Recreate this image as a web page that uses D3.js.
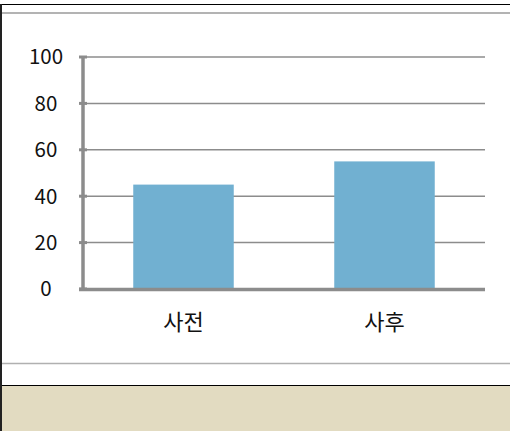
<!DOCTYPE html>
<html><head><meta charset="utf-8">
<script src="https://cdn.jsdelivr.net/npm/d3@7"></script>
<style>html,body{margin:0;padding:0;background:#fff;}svg{display:block;}</style>
</head><body>
<svg id="c" width="510" height="431"></svg>
<script>
const categories = ["사전", "사후"];
const values = [45, 55];
const yTicks = [0, 20, 40, 60, 80, 100];

const svg = d3.select("#c");
const W = 510, H = 431;
const font = "'Noto Sans CJK KR', 'Noto Sans', sans-serif";

// frame decorations
svg.append("rect").attr("x", 0).attr("y", 386).attr("width", W).attr("height", H - 386).attr("fill", "#e2dbc1");
svg.append("line").attr("x1", 0).attr("x2", W).attr("y1", 4.5).attr("y2", 4.5).attr("stroke", "#000").attr("stroke-width", 1);
svg.append("line").attr("x1", 0).attr("x2", W).attr("y1", 13).attr("y2", 13).attr("stroke", "#9a9a9a").attr("stroke-width", 1.5);
svg.append("line").attr("x1", 0).attr("x2", W).attr("y1", 363.5).attr("y2", 363.5).attr("stroke", "#b0b0b0").attr("stroke-width", 1.5);
svg.append("line").attr("x1", 0).attr("x2", W).attr("y1", 385.5).attr("y2", 385.5).attr("stroke", "#000").attr("stroke-width", 1);
svg.append("line").attr("x1", 1).attr("x2", 1).attr("y1", 4).attr("y2", H).attr("stroke", "#222").attr("stroke-width", 2);

const x0 = 83, x1 = 485, yTop = 57, yBot = 289;
const x = d3.scaleBand().domain(categories).range([x0, x1]).paddingInner(0.5).paddingOuter(0.25);
const y = d3.scaleLinear().domain([0, 100]).range([yBot, yTop]);

// gridlines
svg.append("g").selectAll("line").data(yTicks.filter(d => d > 0)).join("line")
  .attr("x1", x0).attr("x2", x1).attr("y1", d => y(d)).attr("y2", d => y(d))
  .attr("stroke", "#8c8c8c").attr("stroke-width", 1.5);

// bars
svg.append("g").selectAll("rect").data(values).join("rect")
  .attr("x", (d, i) => x(categories[i])).attr("width", x.bandwidth())
  .attr("y", d => y(d)).attr("height", d => y(0) - y(d))
  .attr("fill", "#71b0d1");

// y axis line + ticks
svg.append("line").attr("x1", x0).attr("x2", x0).attr("y1", yTop).attr("y2", yBot + 1.5).attr("stroke", "#8c8c8c").attr("stroke-width", 3.5);
svg.append("g").selectAll("line").data(yTicks).join("line")
  .attr("x1", x0 - 4).attr("x2", x0 + 4).attr("y1", d => y(d)).attr("y2", d => y(d))
  .attr("stroke", "#8c8c8c").attr("stroke-width", 3);
// x axis line
svg.append("line").attr("x1", x0 - 4).attr("x2", x1).attr("y1", yBot + 0.5).attr("y2", yBot + 0.5).attr("stroke", "#8c8c8c").attr("stroke-width", 3.5);

// y labels
svg.append("g").selectAll("text").data(yTicks).join("text")
  .attr("x", 46).attr("y", d => y(d)).attr("dy", "0.36em")
  .attr("text-anchor", "middle").attr("font-family", font).attr("font-size", 20.5).attr("fill", "#111")
  .text(d => d);

// x labels
svg.append("g").selectAll("text").data(categories).join("text")
  .attr("x", d => x(d) + x.bandwidth() / 2).attr("y", 330)
  .attr("text-anchor", "middle").attr("font-family", font).attr("font-size", 22).attr("fill", "#111")
  .text(d => d);
</script>
</body></html>
